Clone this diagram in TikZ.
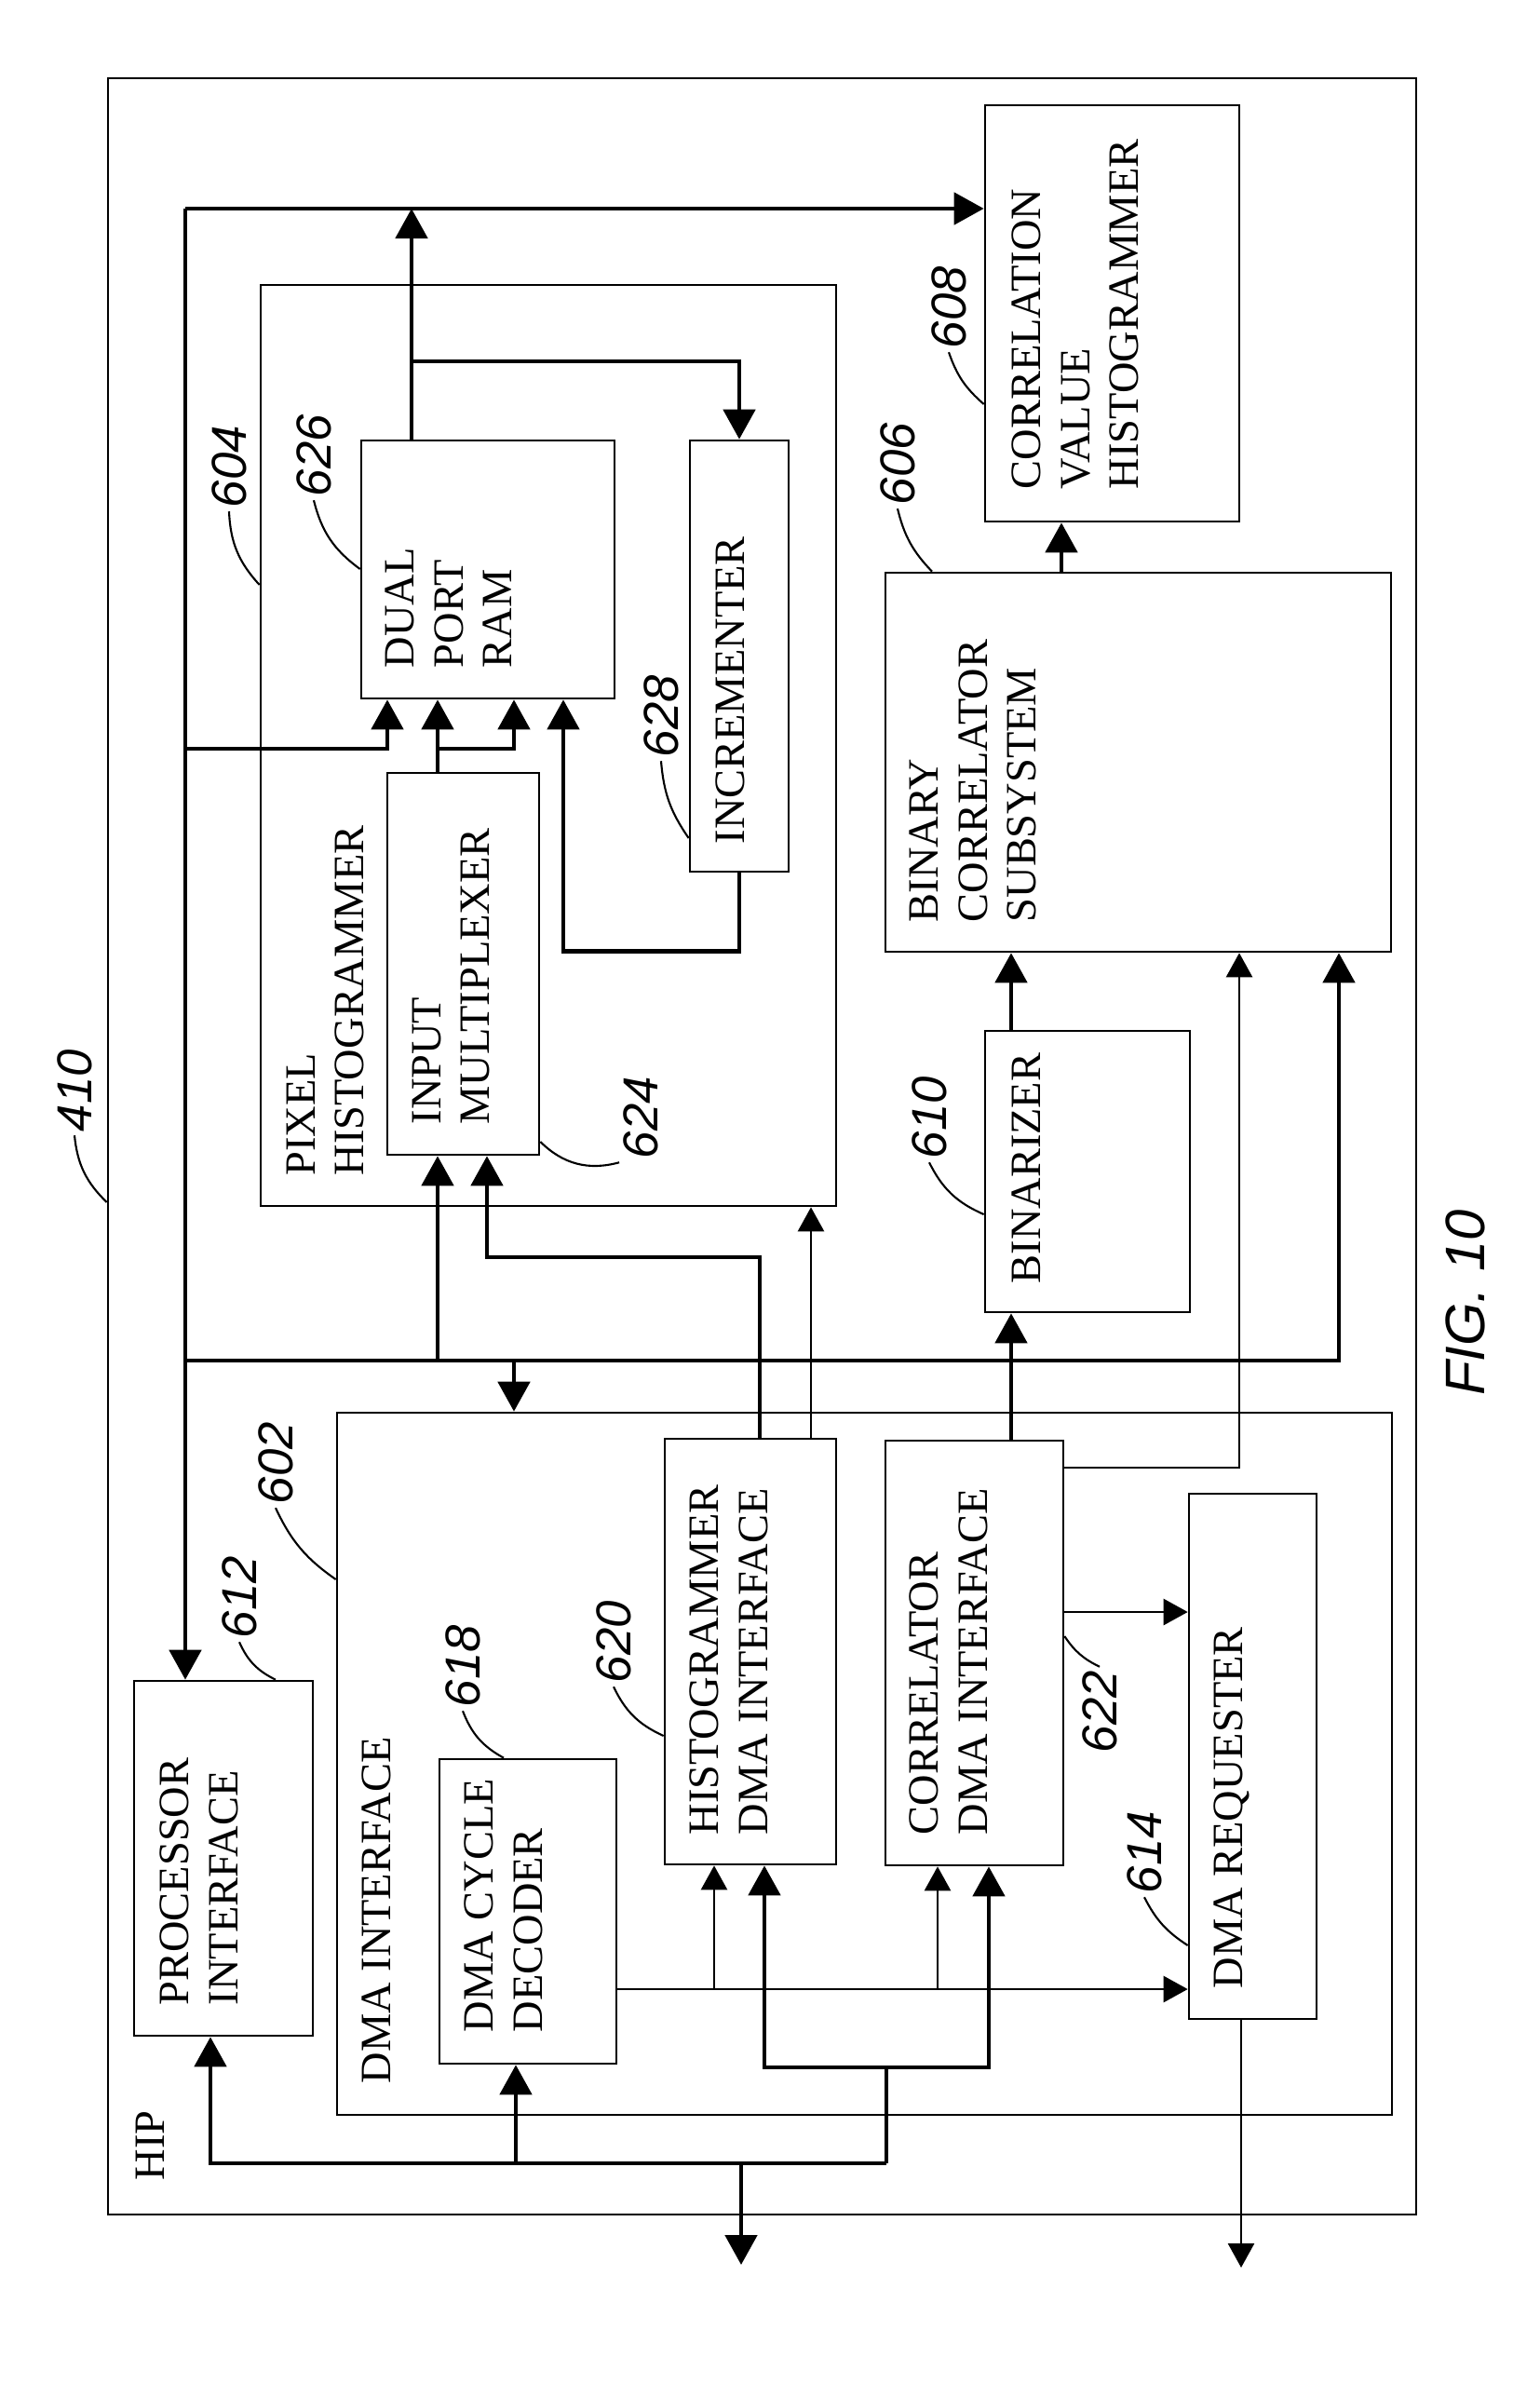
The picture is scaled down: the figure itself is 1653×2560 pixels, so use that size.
\documentclass[tikz,border=0pt]{standalone}
\usepackage{fontspec}
\setmainfont{Liberation Serif}
\newfontfamily\handfont{Liberation Sans}
\usetikzlibrary{arrows.meta, positioning, fit, calc}

\begin{document}
\begin{tikzpicture}[
    x=0.01cm, y=-0.01cm,
    block/.style={draw, line width=0.75pt, inner sep=0pt},
    boxtext/.style={rotate=90, anchor=north west, align=left, inner sep=0pt, font=\fontsize{13.2}{15}\selectfont},
    refnum/.style={rotate=90, inner sep=1pt, font=\handfont\itshape\fontsize{15}{15}\selectfont},
    leader/.style={line width=0.6pt},
    bus/.style={line width=1.4pt},
    busarrow/.style={line width=1.4pt, -{Triangle[length=3.2mm, width=3.4mm]}},
    sig/.style={line width=0.75pt, -{Triangle[length=2.6mm, width=2.8mm]}}
]
    \fill[white] (0,0) rectangle (1653,2560);

    % Containers
    \node[block, fit={(116,84) (1521,2378)}] (hip) {};
    \node[boxtext] (thip) at (145,2342) {HIP};
    \node[block, fit={(280,306) (898,1295)}] (ph) {};
    \node[boxtext] (tph) at (307,1263) {PIXEL\\HISTOGRAMMER};
    \node[block, fit={(362,1517) (1495,2271)}] (dmai) {};
    \node[boxtext] (tdmai) at (388,2238) {DMA INTERFACE};

    % Blocks
    \node[block, fit={(388,473) (660,750)}] (ram) {};
    \node[boxtext] (tram) at (413,718) {DUAL\\PORT\\RAM};
    \node[block, fit={(741,473) (847,936)}] (inc) {};
    \node[boxtext] (tinc) at (768,907) {INCREMENTER};
    \node[block, fit={(416,830) (579,1240)}] (mux) {};
    \node[boxtext] (tmux) at (442,1208) {INPUT\\MULTIPLEXER};
    \node[block, fit={(1058,113) (1331,560)}] (cvh) {};
    \node[boxtext] (tcvh) at (1086,526) {CORRELATION\\VALUE\\HISTOGRAMMER};
    \node[block, fit={(951,615) (1494,1022)}] (bcs) {};
    \node[boxtext] (tbcs) at (976,991) {BINARY\\CORRELATOR\\SUBSYSTEM};
    \node[block, fit={(1058,1107) (1278,1409)}] (bin) {};
    \node[boxtext] (tbin) at (1086,1379) {BINARIZER};
    \node[block, fit={(144,1805) (336,2186)}] (pi) {};
    \node[boxtext] (tpi) at (171,2154) {PROCESSOR\\INTERFACE};
    \node[block, fit={(472,1889) (662,2216)}] (dcd) {};
    \node[boxtext] (tdcd) at (498,2183) {DMA CYCLE\\DECODER};
    \node[block, fit={(714,1545) (898,2002)}] (hdma) {};
    \node[boxtext] (thdma) at (740,1971) {HISTOGRAMMER\\DMA INTERFACE};
    \node[block, fit={(951,1547) (1142,2003)}] (cdma) {};
    \node[boxtext] (tcdma) at (976,1971) {CORRELATOR\\DMA INTERFACE};
    \node[block, fit={(1277,1604) (1414,2168)}] (dr) {};
    \node[boxtext] (tdr) at (1303,2136) {DMA REQUESTER};

    % Bus corners
    \coordinate (tl) at (199,224);
    \coordinate (ml) at (199,1461);
    \coordinate (mr) at (1438,1461);
    \coordinate (bl) at (226,2323);
    \coordinate (br) at (952,2323);
    \coordinate (fork) at (952,2220);
    \coordinate (ramtap) at (442,388);
    \coordinate (extbus) at (796,2432);
    \coordinate (extreq) at (1333,2435);

    % Top bus
    \draw[busarrow] (tl) -- (tl -| cvh.west);
    \draw[busarrow] (tl) -- (tl |- pi.north);
    \draw[busarrow] (442,0 |- ram.north) -- (442,0 |- tl);
    \draw[busarrow] (ramtap) -| (inc.north);
    \draw[busarrow] (tl |- 0,804) -| (416,0 |- ram.south);
    \draw[busarrow] (470,0 |- mux.north) -- (470,0 |- ram.south);
    \draw[busarrow] (470,804) -| (552,0 |- ram.south);
    \draw[busarrow] (inc.south) -- ++(0,84) -| (605,0 |- ram.south);

    % Middle bus
    \draw[busarrow] (ml) -- (mr) -- (mr |- bcs.south);
    \draw[busarrow] (470,0 |- ml) -- (470,0 |- mux.south);
    \draw[busarrow] (552,0 |- ml) -- (552,0 |- dmai.north);
    \draw[busarrow] (816,0 |- hdma.north) |- (523,1350) -- (523,0 |- mux.south);
    \draw[sig] (871,0 |- hdma.north) -- (871,0 |- ph.south);
    \draw[busarrow] (1086,0 |- cdma.north) -- (1086,0 |- bin.south);
    \draw[busarrow] (1086,0 |- bin.north) -- (1086,0 |- bcs.south);
    \draw[busarrow] (1140,0 |- bcs.north) -- (1140,0 |- cvh.south);
    \draw[sig] (cdma.east |- 0,1576) -| (1331,0 |- bcs.south);
    \draw[sig] (cdma.east |- 0,1731) -- (dr.west |- 0,1731);

    % Decoder strobes
    \draw[sig] (dcd.east |- 0,2136) -- (dr.west |- 0,2136);
    \draw[sig] (767,2136) -- (767,0 |- hdma.south);
    \draw[sig] (1007,2136) -- (1007,0 |- cdma.south);

    % Bottom bus
    \draw[busarrow] (br) -- (bl) -- (bl |- pi.south);
    \draw[busarrow] (554,0 |- bl) -- (554,0 |- dcd.south);
    \draw[busarrow] (796,0 |- bl) -- (extbus);
    \draw[bus] (br) -- (fork);
    \draw[busarrow] (fork) -| (821,0 |- hdma.south);
    \draw[busarrow] (fork) -| (1062,0 |- cdma.south);
    \draw[sig] (1333,0 |- dr.south) -- (extreq);

    % Reference numerals
    \node[refnum] (n410) at (80,1171) {410};
    \node[refnum] (n604) at (246,501) {604};
    \node[refnum] (n626) at (337,489) {626};
    \node[refnum] (n628) at (710,769) {628};
    \node[refnum] (n608) at (1019,330) {608};
    \node[refnum] (n606) at (964,498) {606};
    \node[refnum] (n624) at (688,1200) {624};
    \node[refnum] (n602) at (296,1571) {602};
    \node[refnum] (n612) at (257,1715) {612};
    \node[refnum] (n618) at (497,1789) {618};
    \node[refnum] (n620) at (659,1763) {620};
    \node[refnum] (n610) at (998,1200) {610};
    \node[refnum] (n622) at (1181,1838) {622};
    \node[refnum] (n614) at (1229,1989) {614};
    \node[refnum, font=\handfont\itshape\fontsize{17}{17}\selectfont] (fig) at (1574,1399) {FIG. 10};

    \draw[leader] (n410.west) to[bend right=20] (hip.west |- 0,1291);
    \draw[leader] (n604.west) to[bend right=20] (ph.west |- 0,628);
    \draw[leader] (n626.west) to[bend right=20] (ram.west |- 0,611);
    \draw[leader] (n628.west) to[bend right=15] (inc.west |- 0,900);
    \draw[leader] (n608.west) to[bend right=15] (cvh.west |- 0,434);
    \draw[leader] (n606.west) to[bend right=15] (1001,0 |- bcs.north);
    \draw[leader] (mux.east |- 0,1226) to[bend right=30] (n624.north west);
    \draw[leader] (n602.west) to[bend right=15] (dmai.west |- 0,1696);
    \draw[leader] (n612.west) to[bend right=20] (296,0 |- pi.north);
    \draw[leader] (n618.west) to[bend right=20] (541,0 |- dcd.north);
    \draw[leader] (n620.west) to[bend right=20] (hdma.west |- 0,1864);
    \draw[leader] (n610.west) to[bend right=20] (bin.west |- 0,1304);
    \draw[leader] (cdma.east |- 0,1757) to[bend right=15] (n622.east);
    \draw[leader] (n614.west) to[bend right=15] (dr.west |- 0,2089);
\end{tikzpicture}
\end{document}
